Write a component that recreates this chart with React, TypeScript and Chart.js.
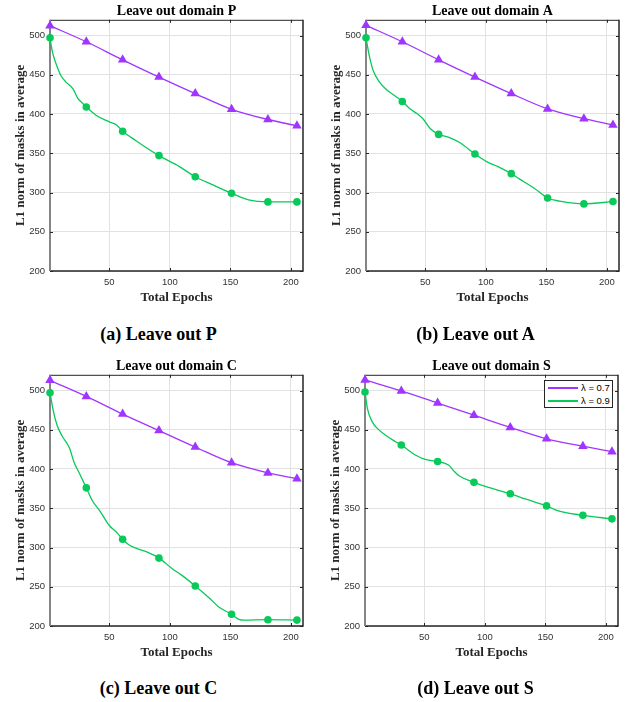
import React, { useEffect, useRef } from 'react';
import { Chart, registerables } from 'chart.js';

Chart.register(...registerables);

// ---------- data ----------
const markerEpochs = [1, 31, 61, 91, 121, 151, 181, 205];
const xTickValues = [50, 100, 150, 200];
const yTickValues = [200, 250, 300, 350, 400, 450, 500];
const seriesLabels = ['λ = 0.7', 'λ = 0.9'];
const panelTitles = ['Leave out domain P', 'Leave out domain A', 'Leave out domain C', 'Leave out domain S'];
const captions = ['(a) Leave out P', '(b) Leave out A', '(c) Leave out C', '(d) Leave out S'];

// lambda = 0.7 (values at marker epochs)
const purpleP = [512.5, 492, 469, 447, 426, 406, 393, 385];
const purpleA = [513, 492, 469, 447, 426, 406.5, 394, 386];
const purpleC = [513, 492.5, 470, 449, 428, 408, 395, 387.5];
const purpleS = [513.5, 499.5, 484, 468.5, 453, 438.5, 429, 422];

// lambda = 0.9 (curve samples)
const greenPEpochs = [1, 3, 6, 10, 14, 20, 24, 27, 31, 39, 50, 56, 61, 72, 91, 108, 121, 135, 151, 165, 181, 205];
const greenP = [497, 479, 464, 449, 441, 432, 420, 415, 409, 398.5, 390, 386, 378, 366, 347, 333, 320, 310, 299, 290.5, 288, 288];

const greenAEpochs = [1, 4, 7, 12, 18, 26, 31, 37, 43, 48, 54, 61, 70, 79, 91, 101, 110, 121, 128, 140, 151, 161, 181, 205];
const greenA = [497, 472, 455, 441, 431, 422, 416, 407, 400.5, 394, 381.5, 374, 370, 363, 349, 339, 333, 324, 317, 305.5, 293, 289, 285.5, 288.5];

const greenCEpochs = [1, 4, 7, 11, 17, 21, 25, 31, 36, 42, 50, 56, 61, 67, 80, 91, 102, 110, 121, 133, 141, 151, 157, 161, 181, 205];
const greenC = [497, 472, 455, 442, 427, 408, 395.5, 376, 359.5, 347, 328, 319.5, 310.5, 302.5, 295, 286.5, 273, 264.5, 251, 235, 223.5, 215, 208.5, 207.5, 208, 207.5];

const greenSEpochs = [1, 3, 7, 12, 18, 26, 31, 43, 50, 61, 70, 75, 79, 91, 101, 121, 134, 151, 160, 181, 205];
const greenS = [498, 477, 460, 450.5, 443, 435, 430.5, 417.5, 412.5, 409.5, 405, 396.5, 391, 383, 377.5, 368.5, 361.5, 353, 347, 341, 336.5];

// ---------- style ----------
const PURPLE = '#a035ff';
const GREEN = '#08c95a';
const AXIS = '#262626';

const framePlugin = {
  id: 'frame',
  beforeDatasetsDraw(chart: any) {
    const { ctx, chartArea: a, scales } = chart;
    ctx.save();
    ctx.strokeStyle = AXIS;
    ctx.lineWidth = 1;
    ctx.beginPath();
    ctx.moveTo(a.left, a.top + 0.5);
    ctx.lineTo(a.right, a.top + 0.5);
    ctx.stroke();
    ctx.lineWidth = 1.5;
    ctx.beginPath();
    ctx.moveTo(a.right, a.top);
    ctx.lineTo(a.right, a.bottom);
    ctx.lineTo(a.left, a.bottom);
    ctx.stroke();
    ctx.strokeStyle = '#858585';
    ctx.lineWidth = 2;
    ctx.beginPath();
    ctx.moveTo(a.left, a.top);
    ctx.lineTo(a.left, a.bottom);
    ctx.stroke();
    ctx.strokeStyle = AXIS;
    ctx.lineWidth = 1;
    const t = 3;
    ctx.beginPath();
    xTickValues.forEach((v) => {
      const px = Math.round(scales.x.getPixelForValue(v)) + 0.5;
      ctx.moveTo(px, a.bottom);
      ctx.lineTo(px, a.bottom - t);
      ctx.moveTo(px, a.top);
      ctx.lineTo(px, a.top + t);
    });
    yTickValues.forEach((v) => {
      const py = Math.round(scales.y.getPixelForValue(v)) + 0.5;
      ctx.moveTo(a.left, py);
      ctx.lineTo(a.left + t, py);
      ctx.moveTo(a.right, py);
      ctx.lineTo(a.right - t, py);
    });
    ctx.stroke();
    ctx.restore();
  },
};

type PanelProps = {
  title: string;
  purple: number[];
  greenX: number[];
  greenY: number[];
  left: number;
  top: number;
};

function Panel({ title, purple, greenX, greenY, left, top }: PanelProps) {
  const ref = useRef<HTMLCanvasElement>(null);
  useEffect(() => {
    const chart = new Chart(ref.current as HTMLCanvasElement, {
      type: 'line',
      data: {
        datasets: [
          {
            label: seriesLabels[0],
            data: markerEpochs.map((x, i) => ({ x, y: purple[i] })),
            borderColor: PURPLE,
            backgroundColor: PURPLE,
            borderWidth: 1.3,
            pointStyle: 'triangle',
            pointRadius: 5.5,
            pointBorderWidth: 0,
            cubicInterpolationMode: 'monotone',
            clip: false,
          } as any,
          {
            label: seriesLabels[1],
            data: greenX.map((x, i) => ({ x, y: greenY[i] })),
            borderColor: GREEN,
            backgroundColor: GREEN,
            borderWidth: 1.3,
            pointStyle: 'circle',
            pointRadius: (c: any) => (markerEpochs.includes(c.raw?.x) ? 3.8 : 0),
            pointBorderWidth: 0,
            cubicInterpolationMode: 'monotone',
            clip: false,
          } as any,
        ],
      },
      options: {
        responsive: false,
        animation: false,
        events: [],
        layout: { padding: { left: 0, right: 14, top: 0, bottom: 0 } },
        plugins: {
          legend: { display: false },
          tooltip: { enabled: false },
          title: {
            display: true,
            text: title,
            fullSize: false,
            color: '#000',
            font: { family: 'Liberation Serif', weight: 'bold', size: 14 },
            padding: { top: 3, bottom: 0 },
          },
        },
        scales: {
          x: {
            type: 'linear',
            min: 1,
            max: 210,
            afterBuildTicks: (s: any) => {
              s.ticks = xTickValues.map((v) => ({ value: v }));
            },
            afterFit: (s: any) => {
              s.height = 39;
            },
            ticks: {
              autoSkip: false,
              maxRotation: 0,
              padding: 6,
              color: '#333',
              font: { family: 'Liberation Sans', size: 9.5 },
            },
            grid: { color: '#e2e2e2', drawTicks: false },
            border: { display: false },
            title: {
              display: true,
              text: 'Total Epochs',
              color: '#262626',
              font: { family: 'Liberation Serif', weight: 'bold', size: 13 },
              padding: { top: 0, bottom: 5 },
            },
          },
          y: {
            type: 'linear',
            min: 200,
            max: 520,
            afterBuildTicks: (s: any) => {
              s.ticks = yTickValues.map((v) => ({ value: v }));
            },
            afterFit: (s: any) => {
              s.width = 50;
            },
            ticks: {
              padding: 5,
              color: '#333',
              font: { family: 'Liberation Sans', size: 9.5 },
            },
            grid: { color: '#e2e2e2', drawTicks: false },
            border: { display: false },
            title: {
              display: true,
              text: 'L1 norm of masks in average',
              color: '#262626',
              font: { family: 'Liberation Serif', weight: 'bold', size: 13 },
              padding: { top: 13, bottom: 0 },
            },
          },
        },
      } as any,
      plugins: [framePlugin],
    });
    return () => chart.destroy();
  }, []);
  return (
    <canvas
      ref={ref}
      width={317}
      height={310}
      style={{ position: 'absolute', left, top, width: 317, height: 310 }}
    />
  );
}

const captionStyle: React.CSSProperties = {
  position: 'absolute',
  width: 317,
  textAlign: 'center',
  fontFamily: 'Liberation Serif',
  fontWeight: 'bold',
  fontSize: 18,
  lineHeight: '20px',
  color: '#000',
};

export default function App() {
  return (
    <div style={{ position: 'absolute', left: 0, top: 0, width: 634, height: 702, background: '#fff', overflow: 'hidden' }}>
      <Panel title={panelTitles[0]} purple={purpleP} greenX={greenPEpochs} greenY={greenP} left={0} top={0} />
      <Panel title={panelTitles[1]} purple={purpleA} greenX={greenAEpochs} greenY={greenA} left={316} top={0} />
      <Panel title={panelTitles[2]} purple={purpleC} greenX={greenCEpochs} greenY={greenC} left={0} top={355} />
      <Panel title={panelTitles[3]} purple={purpleS} greenX={greenSEpochs} greenY={greenS} left={315} top={355} />
      <div style={{ ...captionStyle, left: 0, top: 324 }}>{captions[0]}</div>
      <div style={{ ...captionStyle, left: 317, top: 324 }}>{captions[1]}</div>
      <div style={{ ...captionStyle, left: 0, top: 678 }}>{captions[2]}</div>
      <div style={{ ...captionStyle, left: 317, top: 678 }}>{captions[3]}</div>
      <div
        style={{
          position: 'absolute',
          left: 544,
          top: 380,
          width: 64,
          height: 26,
          border: '1px solid #262626',
          background: '#fff',
          fontFamily: 'Liberation Sans',
          fontSize: 9.5,
          color: '#000',
          padding: '0 0 0 3px',
          boxSizing: 'content-box',
        }}
      >
        {[PURPLE, GREEN].map((c, i) => (
          <div key={i} style={{ display: 'flex', alignItems: 'center', height: 13 }}>
            <span style={{ display: 'inline-block', width: 30, height: 2, background: c, marginRight: 3 }} />
            <span>{seriesLabels[i]}</span>
          </div>
        ))}
      </div>
    </div>
  );
}
